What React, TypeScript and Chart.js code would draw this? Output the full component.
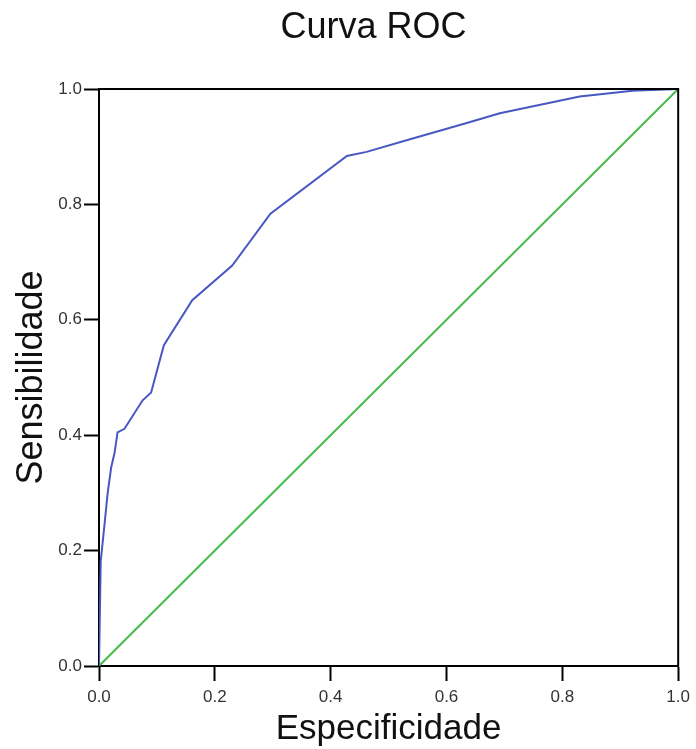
import React, { useEffect, useRef } from "react";
import { Chart, registerables } from "chart.js";

Chart.register(...registerables);

const title = "Curva ROC";
const xAxisTitle = "Especificidade";
const yAxisTitle = "Sensibilidade";

const rocX = [0, 0.003, 0.009, 0.015, 0.021, 0.027, 0.032, 0.044, 0.075, 0.09, 0.112, 0.161, 0.23, 0.296, 0.428, 0.462, 0.537, 0.635, 0.692, 0.83, 0.921, 1.0];
const rocY = [0, 0.182, 0.24, 0.3, 0.344, 0.37, 0.405, 0.411, 0.46, 0.474, 0.556, 0.634, 0.694, 0.784, 0.884, 0.891, 0.913, 0.941, 0.958, 0.987, 0.997, 1.0];

const refX = [0, 1];
const refY = [0, 1];

const tickValues = [0, 0.2, 0.4, 0.6, 0.8, 1.0];

const FONT = "'Liberation Sans', Arial, Helvetica, sans-serif";

const frameBox = {
  id: "frameBox",
  afterDraw(chart: any) {
    const { ctx, chartArea } = chart;
    ctx.save();
    ctx.strokeStyle = "#000";
    ctx.lineWidth = 2;
    ctx.beginPath();
    ctx.moveTo(chartArea.left, chartArea.top);
    ctx.lineTo(chartArea.right, chartArea.top);
    ctx.lineTo(chartArea.right, chartArea.bottom);
    ctx.stroke();
    // chart title
    ctx.fillStyle = "#111";
    ctx.font = `36px ${FONT}`;
    ctx.textAlign = "center";
    ctx.textBaseline = "middle";
    ctx.fillText(title, 373.5, 28);
    ctx.restore();
  },
};

export default function App() {
  const ref = useRef<HTMLCanvasElement | null>(null);

  useEffect(() => {
    if (!ref.current) return;
    const chart = new Chart(ref.current, {
      type: "scatter",
      data: {
        datasets: [
          {
            label: "Referencia",
            data: refX.map((x, i) => ({ x, y: refY[i] })),
            showLine: true,
            borderColor: "#46bb4a",
            borderWidth: 2,
            pointRadius: 0,
            order: 2,
          },
          {
            label: "ROC",
            data: rocX.map((x, i) => ({ x, y: rocY[i] })),
            showLine: true,
            borderColor: "#4758c2",
            borderWidth: 2,
            pointRadius: 0,
            order: 1,
          },
        ],
      },
      options: {
        responsive: false,
        animation: false,
        layout: { padding: { left: 0, right: 17, top: 89, bottom: 0 } },
        plugins: {
          legend: { display: false },
          tooltip: { enabled: false },
          title: { display: false },
        },
        scales: {
          x: {
            type: "linear",
            min: 0,
            max: 1,
            afterFit: (s: any) => {
              s.height = 83;
            },
            afterBuildTicks: (s: any) => {
              s.ticks = tickValues.map((v) => ({ value: v }));
            },
            ticks: {
              color: "#333",
              padding: 6,
              font: { family: FONT, size: 17 },
              callback: (v: any) => Number(v).toFixed(1),
            },
            grid: {
              drawOnChartArea: false,
              drawTicks: true,
              tickLength: 15,
              tickWidth: 2,
              tickColor: "#000",
            },
            border: { display: true, color: "#000", width: 2 },
            title: {
              display: true,
              text: xAxisTitle,
              color: "#111",
              font: { family: FONT, size: 35, lineHeight: 1.1 },
              padding: { top: 0, bottom: 0 },
            },
          },
          y: {
            type: "linear",
            min: 0,
            max: 1,
            afterFit: (s: any) => {
              s.width = 99;
            },
            afterBuildTicks: (s: any) => {
              s.ticks = tickValues.map((v) => ({ value: v }));
            },
            ticks: {
              color: "#333",
              padding: 2,
              font: { family: FONT, size: 17 },
              callback: (v: any) => Number(v).toFixed(1),
            },
            grid: {
              drawOnChartArea: false,
              drawTicks: true,
              tickLength: 15,
              tickWidth: 2,
              tickColor: "#000",
            },
            border: { display: true, color: "#000", width: 2 },
            title: {
              display: true,
              text: yAxisTitle,
              color: "#111",
              font: { family: FONT, size: 36, lineHeight: 1.1 },
              padding: { top: 12, bottom: 0 },
            },
          },
        },
      },
      plugins: [frameBox],
    });
    return () => chart.destroy();
  }, []);

  return (
    <div style={{ position: "absolute", left: 0, top: 0, width: 696, height: 749, background: "#fff" }}>
      <canvas ref={ref} width={696} height={749} style={{ display: "block" }} />
    </div>
  );
}
